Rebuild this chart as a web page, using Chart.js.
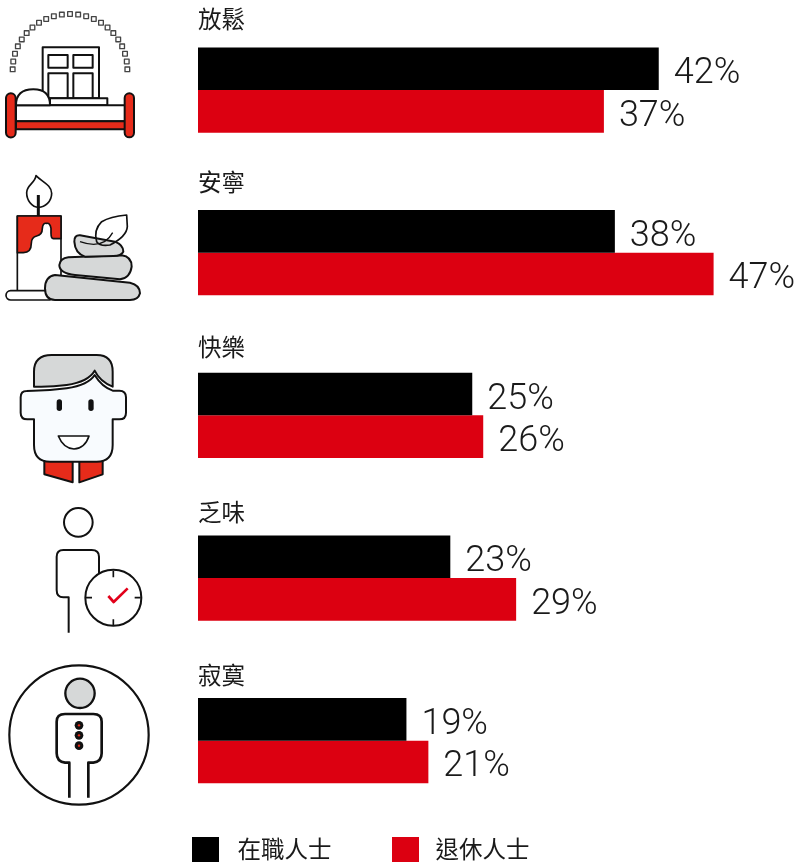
<!DOCTYPE html>
<html lang="zh-Hant">
<head>
<meta charset="utf-8">
<title>Chart</title>
<script src="https://cdn.jsdelivr.net/npm/chart.js@4"></script>
<style>html,body{margin:0;padding:0;background:#fff;overflow:hidden}canvas{display:block}</style>
</head>
<body>
<canvas id="c" width="795" height="862"></canvas>
<script>
const categories = ['放鬆', '安寧', '快樂', '乏味', '寂寞'];
const seriesNames = ['在職人士', '退休人士'];
const employed = [42, 38, 25, 23, 19];
const retired = [37, 47, 26, 29, 21];

const BLACK = '#000000', RED = '#dc0011', ICONRED = '#e62b1a', GREY = '#d6d8d8', INK = '#1a1a1a';
const labelRise = [71, 71, 68, 66, 66];
const valueDrop = [5.5, 5.5];

function shape(ctx, d, fill, lw, stroke) {
  const p = new Path2D(d);
  if (fill) { ctx.fillStyle = fill; ctx.fill(p); }
  if (lw) { ctx.lineWidth = lw; ctx.strokeStyle = stroke || '#111'; ctx.stroke(p); }
}
function drawIcons(ctx) {
  ctx.save();
  ctx.lineJoin = 'round'; ctx.lineCap = 'butt';
  // --- bed (coordinates in 3x crop units)
  ctx.save(); ctx.scale(1/3, 1/3);
  for (let i = 0; i <= 22; i++) {
    const a = Math.PI - i * Math.PI / 22;
    const x = 210 + 172 * Math.cos(a), y = 208 - 166 * Math.sin(a);
    ctx.fillStyle = '#fff'; ctx.strokeStyle = '#444'; ctx.lineWidth = 4;
    ctx.fillRect(x - 7, y - 7, 14, 14); ctx.strokeRect(x - 7, y - 7, 14, 14);
  }
  shape(ctx, 'M128 295V142H297V295Z', '#fff', 6);
  ['M145 165H203V203H145Z','M220 165H278V203H220Z','M145 220H203V295H145Z','M220 220H278V295H220Z'].forEach(d => shape(ctx, d, '#fff', 6));
  shape(ctx, 'M150 295H322V316H150Z', '#fff', 6);
  shape(ctx, 'M48 316H375V364H48Z', '#fff', 6);
  shape(ctx, 'M48 364H375V388H48Z', ICONRED, 6);
  shape(ctx, 'M48 316Q48 268 100 268Q150 268 150 316Z', '#fff', 6);
  shape(ctx, 'M18 294A14 14 0 0 1 47 294V398A14 14 0 0 1 18 398Z', ICONRED, 6);
  shape(ctx, 'M374 294A14 14 0 0 1 402 294V398A14 14 0 0 1 374 398Z', ICONRED, 6);
  // --- candle and stones
  shape(ctx, 'M108 527C125 545 155 555 155 580C155 605 135 622 116 622C95 622 80 600 80 578C80 555 105 550 108 527Z', '#fff', 5);
  shape(ctx, 'M115 585V648', null, 9);
  shape(ctx, 'M52 870V648H183V870', '#fff', 5);
  shape(ctx, 'M52 648H183V716H160Q153 716 153 700V685Q150 668 140 670Q128 668 127 685Q127 705 110 708Q94 712 94 730Q94 758 70 758H52Z', ICONRED, 5);
  shape(ctx, 'M32 872H150V900H32A14 14 0 0 1 32 872Z', '#fff', 5);
  shape(ctx, 'M135 865Q135 830 165 825L390 848Q420 855 420 880Q415 900 390 900H165Q135 900 135 865Z', GREY, 6);
  shape(ctx, 'M178 795Q180 775 205 772L365 766Q395 770 395 800Q390 835 360 838L225 825Q178 820 178 795Z', GREY, 6);
  shape(ctx, 'M223 725Q222 705 240 706L345 725Q370 735 370 755Q365 768 340 768L255 770Q225 760 223 725Z', GREY, 6);
  shape(ctx, 'M380 645Q330 650 305 665Q280 690 290 725Q300 740 330 735Q380 710 382 680Z', null, 5);
  shape(ctx, 'M240 725Q310 750 338 698', null, 4);
  ctx.restore();

  // --- face
  ctx.save(); ctx.translate(0, 340); ctx.scale(1/3, 1/3);
  shape(ctx, 'M133 360H218V427L133 403Z', ICONRED, 6);
  shape(ctx, 'M238 360H308V403L238 427Z', ICONRED, 6);
  shape(ctx, 'M80 153Q62 153 62 172V218Q62 238 82 238H102V315Q102 365 150 365H290Q338 365 338 315V238H358Q378 238 378 218V172Q378 152 358 152H338Q305 140 284 105Q265 135 200 145Q150 152 100 152Z', '#f8fbfe', 6);
  shape(ctx, 'M102 140V95Q102 45 155 45H290Q338 45 338 95V140Q300 125 284 92Q265 125 200 135Q150 142 102 140Z', GREY, 6);
  shape(ctx, 'M170 186A8 8 0 0 1 186 186V205A8 8 0 0 1 170 205Z', '#111');
  shape(ctx, 'M265 186A8 8 0 0 1 281 186V205A8 8 0 0 1 265 205Z', '#111');
  shape(ctx, 'M175 288H267Q255 325 222 327Q190 325 175 288Z', '#fff', 5);
  // --- person with clock
  ctx.beginPath(); ctx.arc(235, 547, 43, 0, 2 * Math.PI); ctx.lineWidth = 6; ctx.strokeStyle = '#111'; ctx.stroke();
  shape(ctx, 'M297 700V650Q297 630 275 630H190Q170 630 170 650V750Q170 772 190 772H206V878', null, 6);
  ctx.beginPath(); ctx.arc(340, 773, 84, 0, 2 * Math.PI); ctx.fillStyle = '#fff'; ctx.fill(); ctx.lineWidth = 6; ctx.stroke();
  shape(ctx, 'M340 692V712M340 838V858M258 773H276M404 773H422', null, 5);
  shape(ctx, 'M325 768L341 786L383 745', null, 8, '#e2001a');
  ctx.restore();

  // --- lonely person
  ctx.save(); ctx.translate(0, 650); ctx.scale(1/3, 1/3);
  ctx.beginPath(); ctx.arc(237, 255, 209, 0, 2 * Math.PI); ctx.lineWidth = 6.5; ctx.strokeStyle = '#111'; ctx.stroke();
  ctx.beginPath(); ctx.arc(240, 130, 44, 0, 2 * Math.PI); ctx.fillStyle = GREY; ctx.fill(); ctx.lineWidth = 7; ctx.stroke();
  shape(ctx, 'M208 443V338H195Q170 335 170 310V215Q170 192 195 192H280Q305 192 305 215V310Q305 335 280 338H265V443', null, 8);
  [226, 256, 287].forEach(y => {
    ctx.beginPath(); ctx.arc(237, y, 13, 0, 2 * Math.PI); ctx.fillStyle = '#111'; ctx.fill();
    ctx.beginPath(); ctx.arc(237, y, 3.5, 0, 2 * Math.PI); ctx.fillStyle = '#e62b1a'; ctx.fill();
  });
  ctx.restore();
  ctx.restore();
}

const annotate = {
  id: 'annotate',
  afterDatasetsDraw(chart) {
    const { ctx, scales: { x, y } } = chart;
    drawIcons(ctx);
    ctx.save();
    // value labels at bar ends
    ctx.font = '300 36px Roboto, "Liberation Sans", sans-serif';
    ctx.fillStyle = INK; ctx.textAlign = 'left'; ctx.textBaseline = 'middle';
    chart.data.datasets.forEach((ds, di) => {
      chart.getDatasetMeta(di).data.forEach((bar, i) => {
        ctx.fillText(ds.data[i] + '%', bar.x + 15, bar.y + valueDrop[di]);
      });
    });
    // category labels above each pair of bars
    ctx.font = '23.5px "Noto Sans CJK TC", sans-serif';
    categories.forEach((c, i) => {
      ctx.fillText(c, x.left, y.getPixelForValue(i) - labelRise[i]);
    });
    // legend
    const legendY = 849, sw = [192, 392], tx = [237.5, 435.5];
    ctx.font = '23.5px "Noto Sans CJK TC", sans-serif';
    chart.data.datasets.forEach((ds, di) => {
      ctx.fillStyle = ds.backgroundColor;
      ctx.fillRect(sw[di], 837, 27, 25);
      ctx.fillStyle = INK;
      ctx.fillText(ds.label, tx[di], legendY);
    });
    ctx.restore();
  }
};

new Chart(document.getElementById('c'), {
  type: 'bar',
  data: {
    labels: categories,
    datasets: [
      { label: seriesNames[0], data: employed, backgroundColor: BLACK },
      { label: seriesNames[1], data: retired, backgroundColor: RED }
    ]
  },
  options: {
    indexAxis: 'y',
    responsive: false,
    animation: false,
    devicePixelRatio: 1,
    layout: { padding: { left: 198, top: 8.7, right: 0, bottom: 40 } },
    datasets: { bar: { categoryPercentage: 85.2 / 162.6, barPercentage: 1, borderWidth: 0 } },
    scales: {
      x: { display: false, min: 0, max: 54.42 },
      y: { display: false }
    },
    plugins: { legend: { display: false }, tooltip: { enabled: false } }
  },
  plugins: [annotate]
});
</script>
</body>
</html>
